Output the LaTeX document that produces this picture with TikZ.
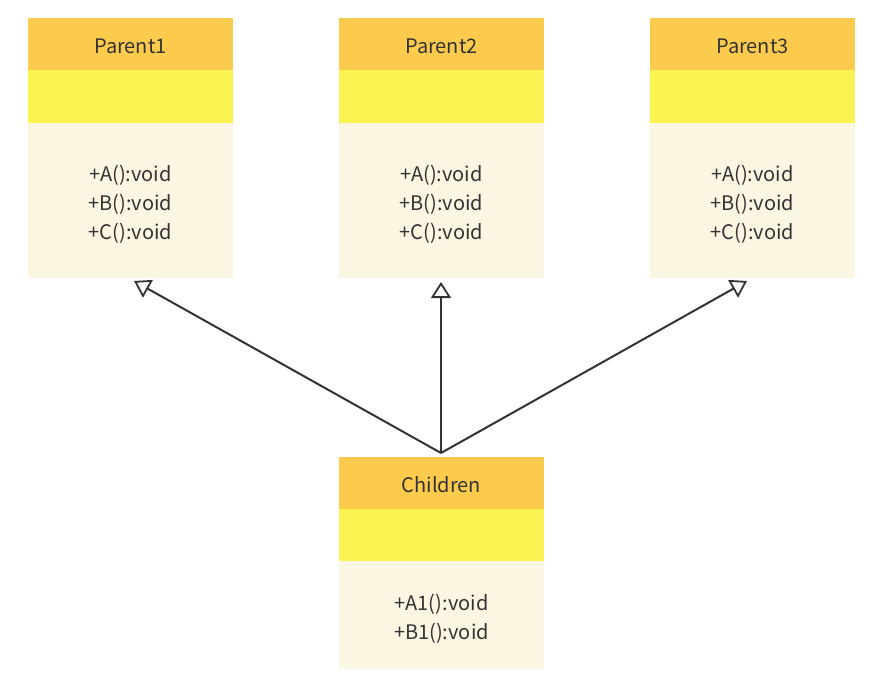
\documentclass[tikz,border=0pt]{standalone}
\usepackage{fontspec}
\setmainfont{Noto Sans CJK SC}
\usetikzlibrary{arrows.meta}
\definecolor{hdr}{HTML}{FCCB4E}
\definecolor{mid}{HTML}{FAF351}
\definecolor{bdy}{HTML}{FBF6E2}
\definecolor{txt}{HTML}{333333}
\tikzset{
  hdrbox/.style={fill=hdr, draw=none, minimum width=205pt, minimum height=52pt, inner sep=0pt},
  midbox/.style={fill=mid, draw=none, minimum width=205pt, minimum height=53pt, inner sep=0pt},
  bdybox/.style={fill=bdy, draw=none, minimum width=205pt, inner sep=0pt},
  title/.style={text=txt, font=\fontsize{20}{23}\selectfont},
  members/.style={text=txt, align=center, font=\fontsize{20}{29}\selectfont},
  inherit/.style={draw=txt, line width=2pt, -{Triangle[open, width=20pt, length=16pt, line width=1.8pt, fill=white]}}
}
\begin{document}
\begin{tikzpicture}[x=1pt,y=-1pt]
\useasboundingbox (0,0) rectangle (890,696);
% Parent1
\node[hdrbox] (p1h) at (130.5,44) {};
\node[title] (p1t) at (130.5,46) {Parent1};
\node[midbox] (p1m) at (130.5,96.5) {};
\node[bdybox, minimum height=155pt] (p1b) at (130.5,200.5) {};
\node[members] (p1o) at (130.5,204) {+A():void\\+B():void\\+C():void};
% Parent2
\node[hdrbox] (p2h) at (441.5,44) {};
\node[title] (p2t) at (441.5,46) {Parent2};
\node[midbox] (p2m) at (441.5,96.5) {};
\node[bdybox, minimum height=155pt] (p2b) at (441.5,200.5) {};
\node[members] (p2o) at (441.5,204) {+A():void\\+B():void\\+C():void};
% Parent3
\node[hdrbox] (p3h) at (752.5,44) {};
\node[title] (p3t) at (752.5,46) {Parent3};
\node[midbox] (p3m) at (752.5,96.5) {};
\node[bdybox, minimum height=155pt] (p3b) at (752.5,200.5) {};
\node[members] (p3o) at (752.5,204) {+A():void\\+B():void\\+C():void};
% Children
\node[hdrbox] (ch) at (441.5,483) {};
\node[title] (ct) at (441.5,485) {Children};
\node[midbox] (cm) at (441.5,535) {};
\node[bdybox, minimum height=108pt] (cb) at (441.5,615) {};
\node[members] (co) at (441.5,619) {+A1():void\\+B1():void};
% connectors
\coordinate (src) at (441,453);
\coordinate (t1) at (134,281);
\coordinate (t2) at (441,282);
\coordinate (t3) at (747,281);
\draw[inherit] (src) -- (t1);
\draw[inherit] (src) -- (t2);
\draw[inherit] (src) -- (t3);
\end{tikzpicture}
\end{document}
